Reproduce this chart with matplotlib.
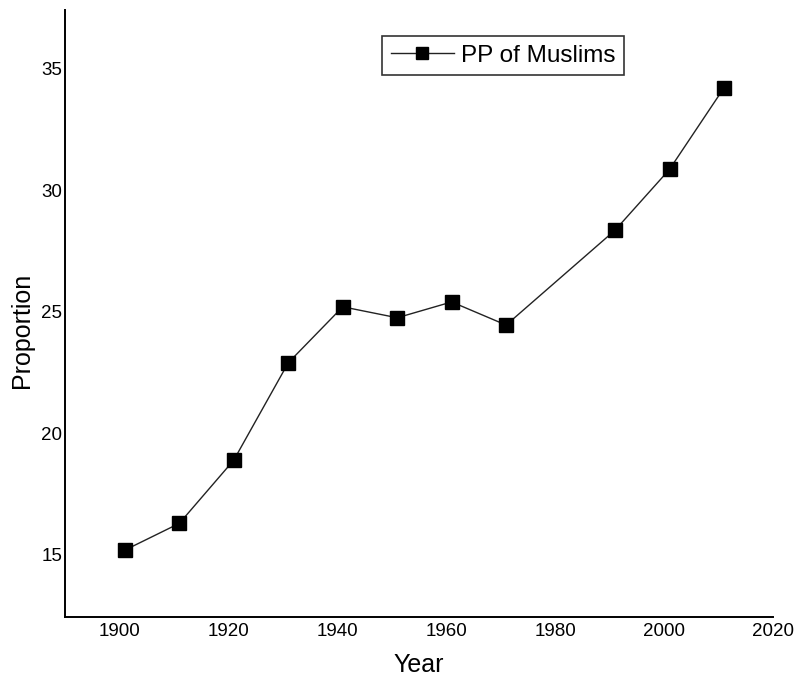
import matplotlib.pyplot as plt

plt.rcParams['font.family'] = ['Liberation Sans', 'DejaVu Sans']

years = [1901, 1911, 1921, 1931, 1941, 1951, 1961, 1971, 1991, 2001, 2011]
proportion = [15.2, 16.3, 18.9, 22.9, 25.2, 24.75, 25.4, 24.45, 28.35, 30.85, 34.2]

x_ticks = [1900, 1920, 1940, 1960, 1980, 2000, 2020]
y_ticks = [15, 20, 25, 30, 35]

fig = plt.figure(figsize=(7.99, 6.82), dpi=100)
ax = fig.add_axes([65 / 799, 1 - 617 / 682, (773 - 65) / 799, (617 - 10) / 682])

ax.plot(years, proportion, color='#222222', linewidth=1.0,
        marker='s', markersize=10, markerfacecolor='black',
        markeredgecolor='black', label='PP of Muslims')

ax.set_xlim(1890, 2020)
ax.set_ylim(12.45, 37.4)
ax.set_xticks(x_ticks)
ax.set_yticks(y_ticks)
ax.tick_params(length=0, labelsize=13.5)
ax.tick_params(axis='y', pad=2)
ax.tick_params(axis='x', pad=4)

ax.spines['top'].set_visible(False)
ax.spines['right'].set_visible(False)
ax.spines['left'].set_linewidth(1.4)
ax.spines['bottom'].set_linewidth(1.4)

ax.set_xlabel('Year', fontsize=18)
ax.set_ylabel('Proportion', fontsize=18)
ax.xaxis.set_label_coords(0.5, -36 / 607)
ax.yaxis.set_label_coords(-31 / 708, 0.473)

leg = ax.legend(loc='upper left', bbox_to_anchor=((382 - 65) / 708, 1 - 26 / 607),
                fontsize=17.5, frameon=True, fancybox=False, handlelength=2.6,
                handletextpad=0.3, borderpad=0.35, borderaxespad=0, markerscale=0.8)
leg.get_frame().set_edgecolor('black')
leg.get_frame().set_linewidth(1.2)

fig.savefig('out.png', dpi=100)
